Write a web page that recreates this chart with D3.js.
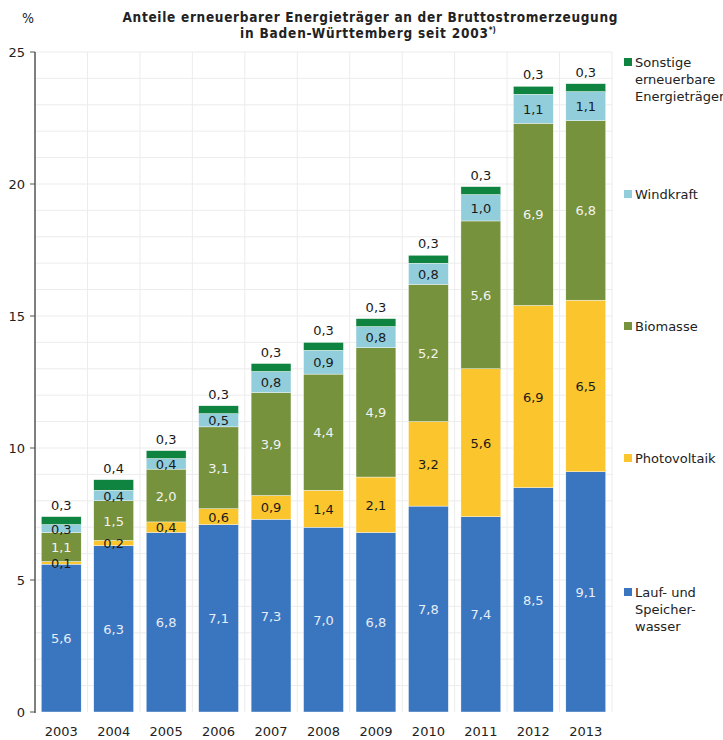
<!DOCTYPE html>
<html><head><meta charset="utf-8">
<script src="https://cdn.jsdelivr.net/npm/d3@7"></script>
<style>body{margin:0;background:#fff}svg{display:block}</style>
</head><body><svg id="c" width="723" height="740"></svg>
<script>
const years = ["2003","2004","2005","2006","2007","2008","2009","2010","2011","2012","2013"];
const wasser = [5.6,6.3,6.8,7.1,7.3,7.0,6.8,7.8,7.4,8.5,9.1];
const photovoltaik = [0.1,0.2,0.4,0.6,0.9,1.4,2.1,3.2,5.6,6.9,6.5];
const biomasse = [1.1,1.5,2.0,3.1,3.9,4.4,4.9,5.2,5.6,6.9,6.8];
const windkraft = [0.3,0.4,0.4,0.5,0.8,0.9,0.8,0.8,1.0,1.1,1.1];
const sonstige = [0.3,0.4,0.3,0.3,0.3,0.3,0.3,0.3,0.3,0.3,0.3];
const yTicks = [0,5,10,15,20,25];

const series = [
  {key:"wasser", name:["Lauf- und","Speicher-","wasser"], vals:wasser, color:"#3a76bf", text:"#e6edf7", ly:597},
  {key:"pv", name:["Photovoltaik"], vals:photovoltaik, color:"#fbc52e", text:"#1a1a1a", ly:463},
  {key:"bio", name:["Biomasse"], vals:biomasse, color:"#76923c", text:"#f2f2f2", ly:331},
  {key:"wind", name:["Windkraft"], vals:windkraft, color:"#92cddc", text:"#1a1a1a", ly:199},
  {key:"sonst", name:["Sonstige","erneuerbare","Energieträger"], vals:sonstige, color:"#0f8441", text:"#1a1a1a", ly:67}
];

const svg = d3.select("#c");
const pl=35, pr=612, pt=52, pb=712;
const x = d3.scaleBand().domain(years).range([pl,pr]).paddingInner(0.24).paddingOuter(0.12);
const y = d3.scaleLinear().domain([0,25]).range([pb,pt]);
const font = "Verdana, 'DejaVu Sans', sans-serif";
const tfont = "'DejaVu Sans Condensed', 'DejaVu Sans', sans-serif";

// grid
const g = svg.append("g");
g.selectAll(".hg").data(d3.range(1,26)).enter().append("line")
  .attr("x1",pl).attr("x2",pr).attr("y1",d=>y(d)).attr("y2",d=>y(d))
  .attr("stroke","#ececec").attr("stroke-width",1);
g.selectAll(".vg").data(d3.range(1,12)).enter().append("line")
  .attr("x1",(d)=>pl+d*(pr-pl)/11).attr("x2",(d)=>pl+d*(pr-pl)/11)
  .attr("y1",pt).attr("y2",pb).attr("stroke","#ececec");

// stack
const table = years.map((yr,i)=>{const o={year:yr}; series.forEach(s=>o[s.key]=s.vals[i]); return o;});
const stack = d3.stack().keys(series.map(s=>s.key))(table);

stack.forEach((layer,li)=>{
  const s = series[li];
  svg.append("g").selectAll("rect").data(layer).enter().append("rect")
    .attr("x",d=>x(d.data.year)).attr("width",x.bandwidth())
    .attr("y",d=>y(d[1])).attr("height",d=>y(d[0])-y(d[1]))
    .attr("fill",s.color).attr("stroke","#ffffff").attr("stroke-width",0.4);
});
stack.forEach((layer,li)=>{
  const s = series[li];
  svg.append("g").selectAll("text").data(layer).enter().append("text")
    .attr("x",d=>x(d.data.year)+x.bandwidth()/2)
    .attr("y",d=> s.key==="sonst" ? y(d[1])-7 : (y(d[0])+y(d[1]))/2+5)
    .attr("text-anchor","middle").attr("font-family",font).attr("font-size",13)
    .attr("fill",s.text)
    .text((d,i)=>d3.format(".1f")(s.vals[i]).replace(".",","));
});

// y axis
svg.append("line").attr("x1",pl).attr("x2",pl).attr("y1",pt).attr("y2",pb+1).attr("stroke","#555").attr("stroke-width",1.5);
svg.selectAll(".yt").data(yTicks).enter().append("line")
  .attr("x1",pl-5).attr("x2",pl).attr("y1",d=>y(d)).attr("y2",d=>y(d)).attr("stroke","#555");
svg.selectAll(".yl").data(yTicks).enter().append("text")
  .attr("x",pl-10).attr("y",d=>y(d)+5).attr("text-anchor","end")
  .attr("font-family",font).attr("font-size",13).attr("fill","#222").text(d=>d);
svg.selectAll(".xl").data(years).enter().append("text")
  .attr("x",d=>x(d)+x.bandwidth()/2).attr("y",736).attr("text-anchor","middle")
  .attr("font-family",font).attr("font-size",13).attr("fill","#222").text(d=>d);

svg.append("text").attr("x",22).attr("y",23).attr("font-family",tfont)
  .attr("font-size",14).attr("fill","#222").text("%");
const t = svg.append("text").attr("text-anchor","middle").attr("font-family",tfont)
  .attr("font-size",13.5).attr("font-weight","bold").attr("fill","#222");
t.append("tspan").attr("x",370).attr("y",22).attr("textLength",495).attr("lengthAdjust","spacing")
  .text("Anteile erneuerbarer Energieträger an der Bruttostromerzeugung");
const t2 = svg.append("text").attr("font-family",tfont)
  .attr("font-size",13.5).attr("font-weight","bold").attr("fill","#222").attr("x",240).attr("y",38);
t2.append("tspan").attr("textLength",248).attr("lengthAdjust","spacing").text("in Baden-Württemberg seit 2003");
t2.append("tspan").attr("dy",-5).attr("font-size",8).text("*)");

// legend
series.forEach(s=>{
  svg.append("rect").attr("x",624).attr("y",s.ly-9).attr("width",8).attr("height",8).attr("fill",s.color);
  const tx = svg.append("text").attr("font-family",font).attr("font-size",13).attr("fill","#222");
  s.name.forEach((n,i)=>tx.append("tspan").attr("x",635).attr("y",s.ly+i*17).text(n));
});
</script></body></html>
